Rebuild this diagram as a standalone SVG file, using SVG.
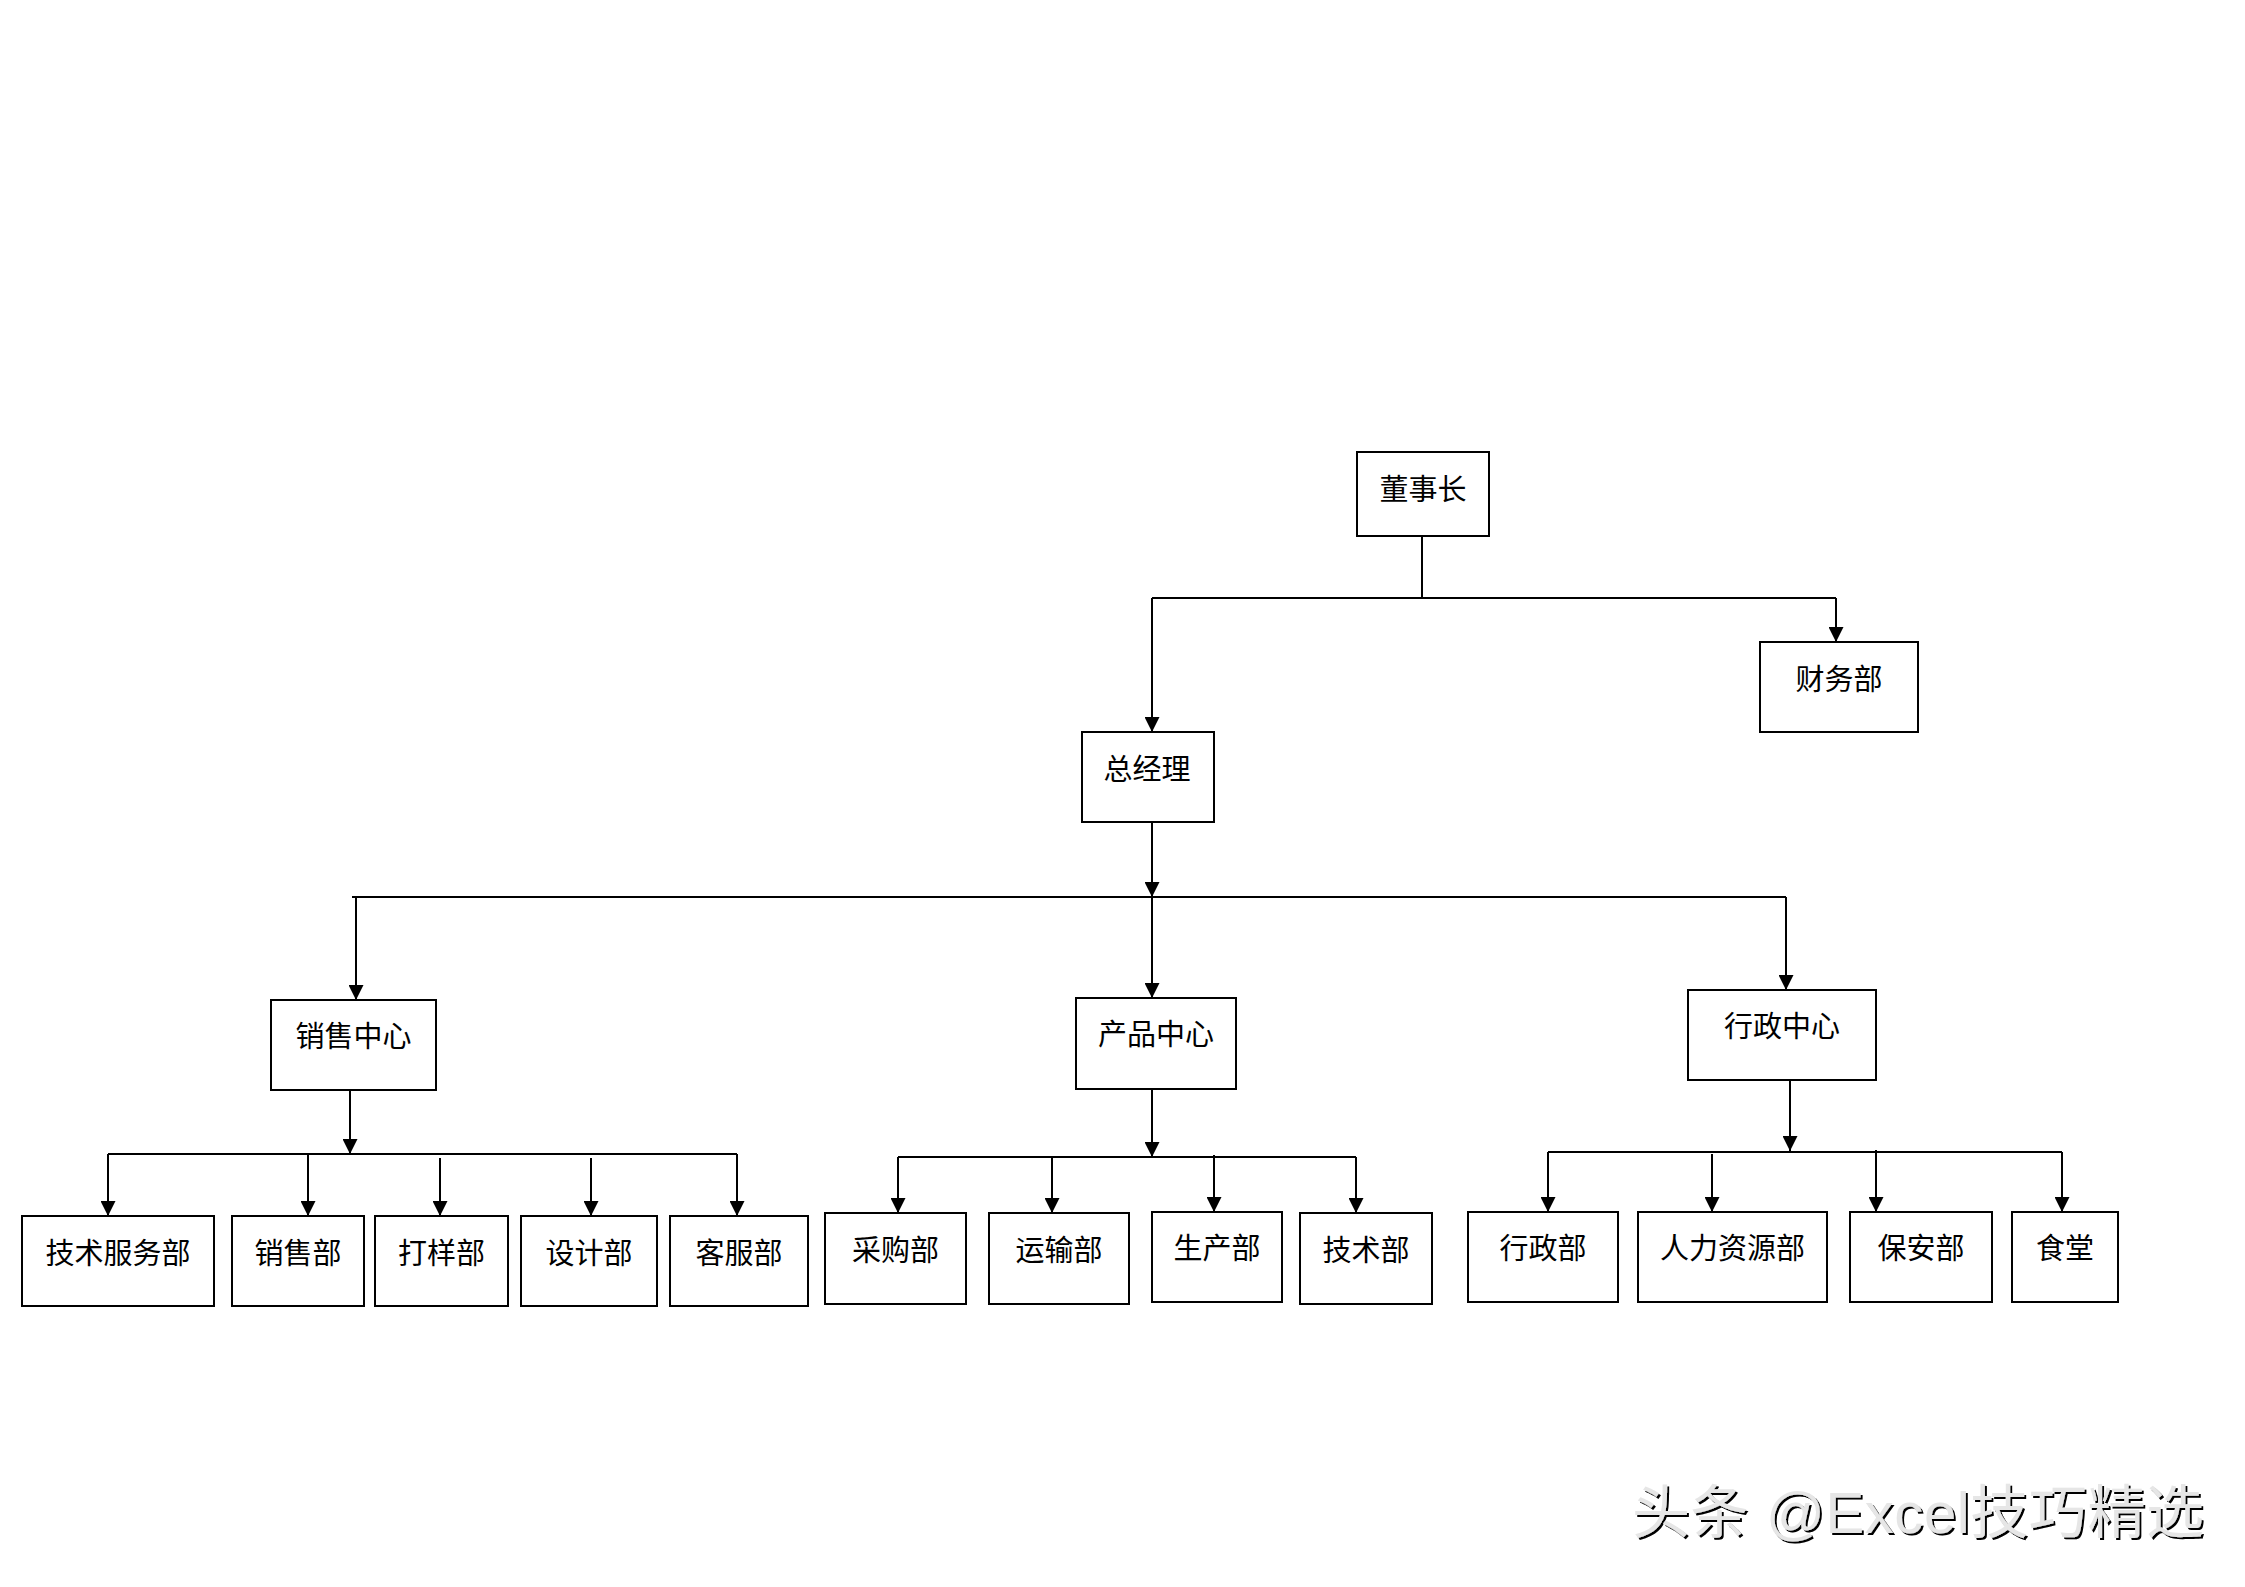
<svg xmlns="http://www.w3.org/2000/svg" width="2245" height="1587" viewBox="0 0 2245 1587">
<style>
.box{fill:#fff;stroke:#000;stroke-width:2}
.lbl{font-family:"Noto Sans CJK SC","Noto Sans CJK JP",sans-serif;font-size:29px;fill:#000;text-anchor:middle}
.ln{fill:none;stroke:#000;stroke-width:2}
.ar{fill:none;stroke:#000;stroke-width:2;marker-end:url(#ah)}
.wm{font-family:"Liberation Sans","Noto Sans CJK SC",sans-serif;font-size:58px;letter-spacing:0.6px;fill:#e6e6e6;filter:url(#sh)}
</style>
<defs>
<marker id="ah" markerUnits="userSpaceOnUse" markerWidth="15" markerHeight="15" viewBox="0 0 15 15" refX="15" refY="7.5" orient="auto">
<path d="M0,0 L15,7.5 L0,15 z" fill="#000"/>
</marker>
<filter id="sh" x="-5%" y="-20%" width="110%" height="140%">
<feDropShadow dx="2" dy="2" stdDeviation="0.6" flood-color="#000" flood-opacity="1"/>
</filter>
</defs>
<rect width="2245" height="1587" fill="#fff"/>
<g id="connectors">
<path class="ln" d="M1422,536 V598 M1152,598 H1836"/>
<path class="ar" d="M1152,598 V732"/>
<path class="ar" d="M1836,598 V642"/>
<path class="ar" d="M1152,822 V897"/>
<path class="ln" d="M352,897 H1786"/>
<path class="ar" d="M356,897 V1000"/>
<path class="ar" d="M1152,897 V998"/>
<path class="ar" d="M1786,897 V990"/>
<path class="ar" d="M350,1090 V1154"/>
<path class="ln" d="M108,1154 H737"/>
<path class="ar" d="M108,1154 V1216"/>
<path class="ar" d="M308,1154 V1216"/>
<path class="ar" d="M440,1158 V1216"/>
<path class="ar" d="M591,1158 V1216"/>
<path class="ar" d="M737,1154 V1216"/>
<path class="ar" d="M1152,1089 V1157"/>
<path class="ln" d="M898,1157 H1356"/>
<path class="ar" d="M898,1157 V1213"/>
<path class="ar" d="M1052,1157 V1213"/>
<path class="ar" d="M1214,1155 V1212"/>
<path class="ar" d="M1356,1157 V1213"/>
<path class="ar" d="M1790,1080 V1151"/>
<path class="ln" d="M1548,1152 H2062"/>
<path class="ar" d="M1548,1152 V1212"/>
<path class="ar" d="M1712,1154 V1212"/>
<path class="ar" d="M1876,1150 V1212"/>
<path class="ar" d="M2062,1152 V1212"/>
</g>
<g id="n-dongshizhang"><rect class="box" x="1357" y="452" width="132" height="84"/><text class="lbl" x="1423" y="500">董事长</text></g>
<g id="n-caiwubu"><rect class="box" x="1760" y="642" width="158" height="90"/><text class="lbl" x="1839" y="690">财务部</text></g>
<g id="n-zongjingli"><rect class="box" x="1082" y="732" width="132" height="90"/><text class="lbl" x="1147" y="780">总经理</text></g>
<g id="n-xiaoshouzhongxin"><rect class="box" x="271" y="1000" width="165" height="90"/><text class="lbl" x="353.5" y="1047">销售中心</text></g>
<g id="n-chanpinzhongxin"><rect class="box" x="1076" y="998" width="160" height="91"/><text class="lbl" x="1156" y="1045">产品中心</text></g>
<g id="n-xingzhengzhongxin"><rect class="box" x="1688" y="990" width="188" height="90"/><text class="lbl" x="1782" y="1037">行政中心</text></g>
<g id="n-jishufuwubu"><rect class="box" x="22" y="1216" width="192" height="90"/><text class="lbl" x="118" y="1264">技术服务部</text></g>
<g id="n-xiaoshoubu"><rect class="box" x="232" y="1216" width="132" height="90"/><text class="lbl" x="298" y="1264">销售部</text></g>
<g id="n-dayangbu"><rect class="box" x="375" y="1216" width="133" height="90"/><text class="lbl" x="441.5" y="1264">打样部</text></g>
<g id="n-shejibu"><rect class="box" x="521" y="1216" width="136" height="90"/><text class="lbl" x="589" y="1264">设计部</text></g>
<g id="n-kefubu"><rect class="box" x="670" y="1216" width="138" height="90"/><text class="lbl" x="739" y="1264">客服部</text></g>
<g id="n-caigoubu"><rect class="box" x="825" y="1213" width="141" height="91"/><text class="lbl" x="895.5" y="1261">采购部</text></g>
<g id="n-yunshubu"><rect class="box" x="989" y="1213" width="140" height="91"/><text class="lbl" x="1059" y="1261">运输部</text></g>
<g id="n-shengchanbu"><rect class="box" x="1152" y="1212" width="130" height="90"/><text class="lbl" x="1217" y="1259">生产部</text></g>
<g id="n-jishubu"><rect class="box" x="1300" y="1213" width="132" height="91"/><text class="lbl" x="1366" y="1261">技术部</text></g>
<g id="n-xingzhengbu"><rect class="box" x="1468" y="1212" width="150" height="90"/><text class="lbl" x="1543" y="1259">行政部</text></g>
<g id="n-renliziyuanbu"><rect class="box" x="1638" y="1212" width="189" height="90"/><text class="lbl" x="1732.5" y="1259">人力资源部</text></g>
<g id="n-baoanbu"><rect class="box" x="1850" y="1212" width="142" height="90"/><text class="lbl" x="1921" y="1259">保安部</text></g>
<g id="n-shitang"><rect class="box" x="2012" y="1212" width="106" height="90"/><text class="lbl" x="2065" y="1259">食堂</text></g>
<text class="wm" x="1632" y="1533">头条 @Excel技巧精选</text>
</svg>
